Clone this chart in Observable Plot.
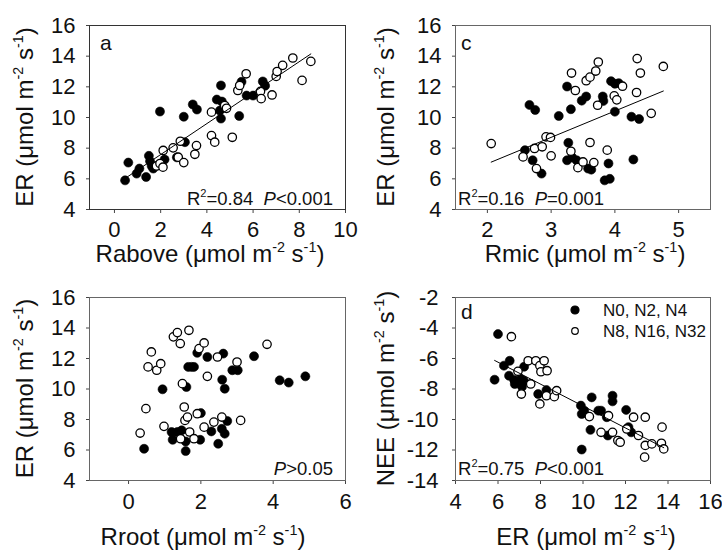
<!DOCTYPE html>
<html>
<head>
<meta charset="utf-8">
<script src="https://cdn.jsdelivr.net/npm/d3@7"></script>
<script src="https://cdn.jsdelivr.net/npm/@observablehq/plot@0.6"></script>
<style>
  body { margin: 0; background: #fff; }
  #fig { position: relative; width: 722px; height: 551px; font-family: "Liberation Sans", Arial, sans-serif; }
  #fig svg { position: absolute; }
</style>
</head>
<body>
<div id="fig"></div>
<script>
// ---------- Panel a: ER vs Rabove ----------
const aFilledX = [0.46, 0.6, 0.96, 1.08, 1.37, 1.49, 1.54, 1.61, 1.68, 1.97, 2.17, 2.7, 3.05, 3.0, 3.39, 3.57, 4.43, 4.61, 4.61, 4.56, 4.65, 5.4, 5.5, 5.72, 6.0, 6.42, 6.52];
const aFilledY = [5.9, 7.06, 6.34, 6.67, 6.12, 7.5, 7.15, 6.84, 6.67, 10.39, 7.26, 7.4, 8.39, 10.05, 10.85, 10.52, 11.17, 12.09, 9.93, 10.45, 11.04, 10.1, 12.33, 11.43, 11.43, 12.35, 12.07];
const aOpenX = [1.82, 1.97, 2.1, 2.11, 2.54, 2.76, 2.85, 3.0, 3.48, 3.55, 4.2, 4.2, 4.34, 4.77, 4.85, 5.1, 5.34, 5.42, 5.7, 6.32, 6.35, 6.82, 7.0, 7.04, 7.28, 7.72, 8.12, 8.5];
const aOpenY = [6.84, 7.0, 6.76, 7.85, 8.02, 7.41, 8.45, 7.06, 7.6, 8.17, 10.35, 8.82, 8.39, 10.78, 10.6, 8.71, 11.76, 12.09, 12.85, 11.7, 11.23, 11.47, 12.68, 13.0, 13.4, 13.88, 12.42, 13.66];

// ---------- Panel c: ER vs Rmic ----------
const cFilledX = [2.66, 2.75, 2.59, 2.71, 2.85, 3.12, 3.25, 3.31, 3.27, 3.25, 3.33, 3.4, 3.48, 3.55, 3.81, 3.82, 3.58, 3.63, 3.84, 3.92, 3.9, 3.94, 4.0, 4.06, 4.0, 4.26, 4.38, 4.29];
const cFilledY = [10.82, 10.49, 7.87, 7.21, 6.34, 10.1, 12.02, 10.54, 8.35, 7.21, 7.39, 7.21, 11.1, 11.37, 11.37, 11.08, 6.67, 6.6, 5.9, 6.0, 7.0, 12.37, 12.2, 12.24, 10.38, 10.05, 9.9, 7.26];
const cOpenX = [2.06, 2.56, 2.74, 2.77, 2.86, 2.92, 2.99, 3.0, 3.32, 3.38, 3.31, 3.42, 3.5, 3.67, 3.55, 3.61, 3.7, 3.74, 3.73, 3.61, 3.88, 3.99, 4.03, 4.12, 4.35, 4.4, 4.34, 4.57, 4.76];
const cOpenY = [8.3, 7.43, 7.98, 6.67, 8.09, 8.74, 8.7, 7.5, 12.9, 11.76, 7.8, 6.73, 7.1, 7.06, 12.4, 12.63, 13.03, 13.62, 10.8, 8.37, 7.87, 11.41, 11.15, 12.04, 13.84, 12.9, 11.63, 10.27, 13.33];

// ---------- Panel b: ER vs Rroot ----------
const bFilledX = [0.43, 0.94, 1.19, 1.22, 1.35, 1.47, 1.58, 1.58, 1.6, 1.65, 1.74, 1.81, 1.9, 2.0, 1.98, 2.18, 2.29, 2.48, 2.58, 2.62, 2.59, 2.66, 2.66, 2.73, 2.87, 3.02, 3.47, 4.18, 4.43, 4.89];
const bFilledY = [6.08, 9.98, 7.18, 6.67, 7.18, 7.29, 6.56, 5.93, 10.13, 11.45, 11.45, 11.45, 12.37, 8.42, 6.67, 12.1, 7.22, 6.41, 7.39, 12.32, 10.61, 10.02, 7.07, 7.9, 11.23, 11.23, 12.15, 10.57, 10.42, 10.83];
const bOpenX = [0.32, 0.48, 0.98, 0.63, 0.54, 0.78, 0.89, 1.24, 1.35, 1.43, 1.67, 1.49, 1.54, 1.56, 1.63, 1.44, 1.69, 1.81, 1.9, 1.95, 2.09, 2.18, 2.09, 2.36, 2.46, 2.58, 3.0, 3.1, 3.83];
const bOpenY = [7.11, 8.71, 7.55, 12.43, 11.45, 11.23, 11.66, 13.42, 13.7, 12.98, 13.85, 10.35, 8.82, 7.94, 8.16, 6.74, 7.18, 6.74, 8.38, 12.65, 13.02, 10.83, 7.5, 7.83, 12.1, 8.16, 11.77, 7.94, 12.93];

// ---------- Panel d: NEE vs ER ----------
const dFilledX = [6.0, 5.84, 6.28, 6.55, 6.52, 6.76, 6.79, 7.07, 7.21, 7.23, 7.13, 7.89, 8.28, 9.94, 9.9, 10.06, 10.41, 10.35, 9.94, 10.72, 10.85, 11.12, 11.17, 11.39, 11.39, 12.03, 12.14, 12.27];
const dFilledY = [-4.4, -7.39, -6.47, -6.15, -7.13, -7.41, -7.67, -7.35, -7.46, -6.54, -7.85, -8.33, -8.07, -9.64, -9.09, -9.42, -8.55, -10.68, -11.97, -9.42, -9.42, -9.85, -11.05, -8.44, -8.81, -9.37, -10.5, -10.84];
const dOpenX = [6.63, 6.94, 7.42, 7.78, 7.97, 8.17, 8.02, 8.31, 7.54, 7.1, 7.97, 8.28, 8.65, 8.76, 10.3, 10.85, 11.2, 11.39, 11.64, 11.75, 12.38, 12.06, 12.61, 12.93, 12.93, 13.24, 12.9, 13.69, 13.72, 13.8];
const dOpenY = [-4.57, -6.84, -6.15, -6.15, -6.47, -6.15, -6.87, -6.8, -7.67, -8.33, -8.98, -8.44, -8.5, -8.11, -9.81, -10.84, -9.75, -10.84, -11.38, -11.49, -9.85, -10.62, -11.05, -9.85, -11.7, -11.6, -12.47, -11.56, -10.5, -11.93];

// ---------- Tick labels ----------
const ticksA = [0, 2, 4, 6, 8, 10];
const ticksC = [2, 3, 4, 5];
const ticksB = [0, 2, 4, 6];
const ticksD = [4, 6, 8, 10, 12, 14, 16];
const ticksER = [4, 6, 8, 10, 12, 14, 16];
const ticksNEE = [-14, -12, -10, -8, -6, -4, -2];

// ---------- Legend ----------
const legendLabels = ["N0, N2, N4", "N8, N16, N32"];

const fig = d3.select("#fig");
const FONT = "'Liberation Sans', Arial, sans-serif";

function richText(g, x, y, parts, {anchor = "start", size = 23, rotate = false} = {}) {
  const t = g.append("text")
    .attr("font-size", size)
    .attr("font-family", FONT)
    .attr("text-anchor", anchor)
    .attr("fill", "#111")
    .style("white-space", "pre");
  if (rotate) t.attr("transform", `translate(${x},${y}) rotate(-90)`);
  else t.attr("x", x).attr("y", y);
  let up = false;
  for (const p of parts) {
    const s = t.append("tspan").text(p.t);
    if (p.sup) {
      s.attr("font-size", size * 0.6).attr("dy", -size * 0.42);
      up = true;
    } else if (up) {
      s.attr("dy", size * 0.42);
      up = false;
    }
    if (p.it) s.attr("font-style", "italic");
  }
  return t;
}

const unitParts = [
  {t: " (\u03bcmol m"}, {t: "-2", sup: true}, {t: " s"}, {t: "-1", sup: true}, {t: ")"}
];

function panel(cfg) {
  const filled = cfg.fx.map((x, i) => ({x, y: cfg.fy[i]}));
  const open = cfg.ox.map((x, i) => ({x, y: cfg.oy[i]}));
  const all = filled.concat(open);
  const marks = [
    Plot.axisX({ticks: cfg.xTicks, tickSize: 4, tickPadding: cfg.xPad, stroke: "#444", tickFormat: d => String(d), label: null}),
    Plot.axisY({ticks: cfg.yTicks, tickSize: 3, tickPadding: cfg.yPad, stroke: "#444", tickFormat: d => String(d), label: null}),
    Plot.frame({stroke: cfg.frameColor || "#333", strokeWidth: 1}),
    Plot.dot(filled, {x: "x", y: "y", r: 4.5, fill: "#000", stroke: "#000", strokeWidth: 0.6}),
    Plot.dot(open, {x: "x", y: "y", r: 4.2, fill: "#fff", stroke: "#000", strokeWidth: 1.3})
  ];
  if (cfg.fit) marks.push(Plot.linearRegressionY(all, {x: "x", y: "y", ci: 0, stroke: "#000", strokeWidth: 1}));
  const svg = Plot.plot({
    width: cfg.w, height: cfg.h,
    marginLeft: cfg.mL, marginRight: cfg.mR, marginTop: cfg.mT, marginBottom: cfg.mB,
    style: {fontFamily: FONT, fontSize: "22px", color: "#111", background: "transparent", overflow: "visible"},
    x: {domain: cfg.xDomain},
    y: {domain: cfg.yDomain},
    marks
  });
  svg.style.left = cfg.left + "px";
  svg.style.top = cfg.top + "px";
  fig.node().appendChild(svg);
  const g = d3.select(svg).append("g").attr("text-anchor", "start");
  const fL = cfg.mL, fR = cfg.w - cfg.mR, fT = cfg.mT, fB = cfg.h - cfg.mB;
  // panel letter
  if (cfg.letter) g.append("text").attr("x", fL + cfg.letterDx).attr("y", fT + cfg.letterDy)
    .attr("text-anchor", "start").attr("font-size", 21).attr("font-family", FONT).attr("fill", "#111").text(cfg.letter);
  // y title
  richText(g, 33, (fT + fB) / 2, cfg.yTitle, {anchor: "middle", size: 24, rotate: true});
  // x title
  richText(g, cfg.xTitleX, cfg.h - cfg.xTitleBase, cfg.xTitle, {anchor: "middle", size: 24});
  // statistics
  if (cfg.stat) {
    const sx = cfg.stat.anchor === "end" ? fR - cfg.stat.dx : fL + cfg.stat.dx;
    richText(g, sx, fB - cfg.stat.dy, cfg.stat.parts, {anchor: cfg.stat.anchor, size: 18.5});
  }
  return {svg, g, fL, fR, fT, fB};
}

// Panel a
panel({
  fx: aFilledX, fy: aFilledY, ox: aOpenX, oy: aOpenY, fit: true,
  xDomain: [-1.08, 10], yDomain: [4, 16], xTicks: ticksA, yTicks: ticksER, xPad: 8, yPad: 11,
  w: 361, h: 280, left: 0, top: 0, mL: 89, mR: 16, mT: 25, mB: 71,
  letter: "a", letterDx: 11, letterDy: 25,
  yTitle: [{t: "ER"}].concat(unitParts),
  xTitle: [{t: "Rabove"}].concat(unitParts), xTitleX: 210, xTitleBase: 18,
  stat: {anchor: "end", dx: 12, dy: 4, parts: [{t: "R"}, {t: "2", sup: true}, {t: "=0.84  "}, {t: "P", it: true}, {t: "<0.001"}]}
});

// Panel c
panel({
  fx: cFilledX, fy: cFilledY, ox: cOpenX, oy: cOpenY, fit: true,
  xDomain: [1.5, 5.5], yDomain: [4, 16], xTicks: ticksC, yTicks: ticksER, xPad: 8, yPad: 11,
  w: 361, h: 280, left: 361, top: 0, mL: 94, mR: 12, mT: 25, mB: 71, frameColor: "#666",
  letter: "c", letterDx: 6, letterDy: 25,
  yTitle: [{t: "ER"}].concat(unitParts),
  xTitle: [{t: "Rmic"}].concat(unitParts), xTitleX: 224, xTitleBase: 18,
  stat: {anchor: "start", dx: 3, dy: 4, parts: [{t: "R"}, {t: "2", sup: true}, {t: "=0.16  "}, {t: "P", it: true}, {t: "=0.001"}]}
});

// Panel b
panel({
  fx: bFilledX, fy: bFilledY, ox: bOpenX, oy: bOpenY, fit: false,
  xDomain: [-1.08, 6], yDomain: [4, 16], xTicks: ticksB, yTicks: ticksER, xPad: 9, yPad: 11,
  w: 361, h: 271, left: 0, top: 280, mL: 89, mR: 16, mT: 17, mB: 71, frameColor: "#666",
  letter: null,
  yTitle: [{t: "ER"}].concat(unitParts),
  xTitle: [{t: "Rroot"}].concat(unitParts), xTitleX: 203, xTitleBase: 6,
  stat: {anchor: "end", dx: 12, dy: 5, parts: [{t: "P", it: true}, {t: ">0.05"}]}
});

// Panel d
const pd = panel({
  fx: dFilledX, fy: dFilledY, ox: dOpenX, oy: dOpenY, fit: true,
  xDomain: [4, 16], yDomain: [-14, -2], xTicks: ticksD, yTicks: ticksNEE, xPad: 9, yPad: 14,
  w: 361, h: 271, left: 361, top: 280, mL: 94, mR: 12, mT: 17, mB: 71, frameColor: "#666",
  letter: "d", letterDx: 6, letterDy: 22,
  yTitle: [{t: "NEE"}].concat(unitParts),
  xTitle: [{t: "ER"}].concat(unitParts), xTitleX: 225, xTitleBase: 6,
  stat: {anchor: "start", dx: 3, dy: 5, parts: [{t: "R"}, {t: "2", sup: true}, {t: "=0.75  "}, {t: "P", it: true}, {t: "<0.001"}]}
});

// Legend in panel d
legendLabels.forEach((lab, i) => {
  const cy = pd.fT + 13 + i * 21;
  pd.g.append("circle").attr("cx", 214).attr("cy", cy).attr("r", i === 0 ? 4 : 3.3)
    .attr("fill", i === 0 ? "#000" : "#fff").attr("stroke", "#000").attr("stroke-width", 1.2);
  pd.g.append("text").attr("x", 242).attr("y", cy + 6).attr("text-anchor", "start").attr("font-size", 17)
    .attr("font-family", FONT).attr("fill", "#111").text(lab);
});
</script>
</body>
</html>
